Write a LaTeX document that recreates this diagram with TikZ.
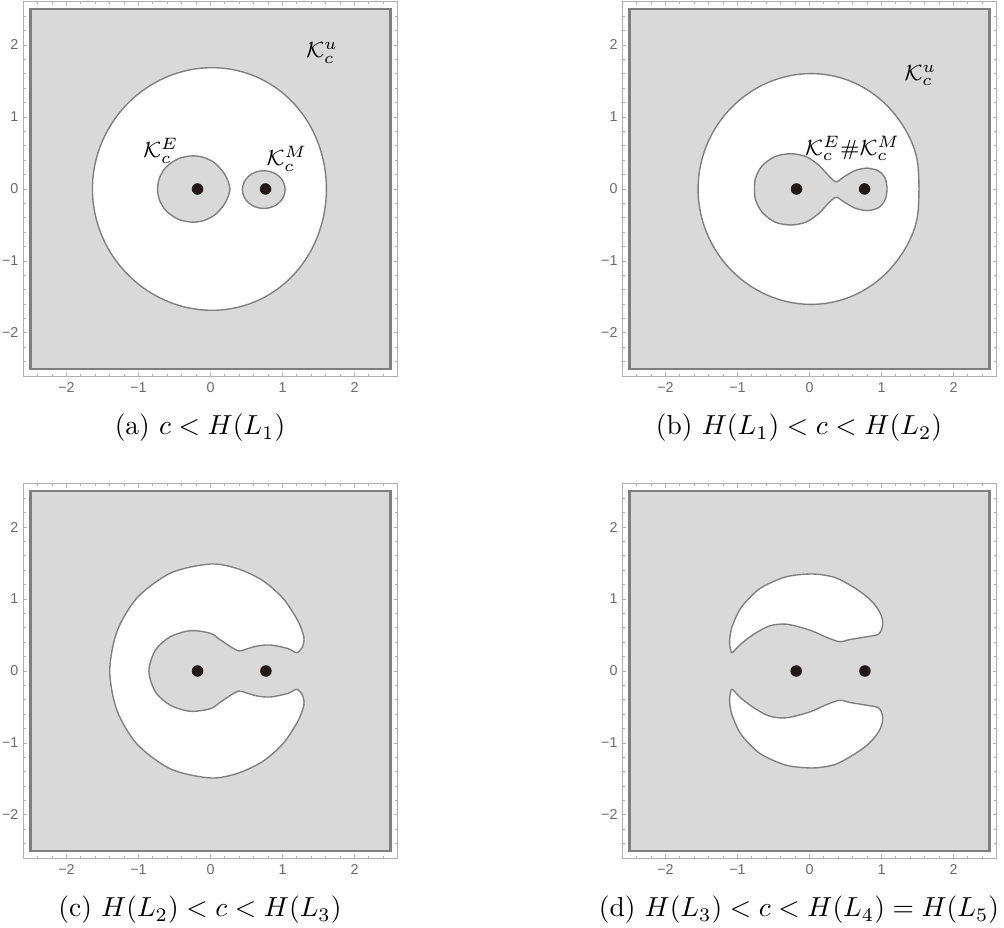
\documentclass[tikz,border=0pt]{standalone}
\usepackage{fontspec}
\newfontfamily\tickfont{Liberation Sans}
\definecolor{regiongray}{HTML}{D9D9D9}
\definecolor{linegray}{HTML}{7F7F7F}
\definecolor{framegray}{HTML}{B0B0B0}
\definecolor{ticktext}{HTML}{6A6A6A}
\definecolor{dotcol}{HTML}{231815}
\tikzset{
  contour/.style={draw=linegray, line width=0.5pt},
  grayregion/.style={contour, fill=regiongray},
  whiteregion/.style={contour, fill=white},
  primary/.style={circle, fill=dotcol, inner sep=0pt, minimum size=4.2pt},
  ticklabel/.style={font=\tickfont\fontsize{5.2}{6}\selectfont, text=ticktext, inner sep=0pt},
  setlabel/.style={font=\footnotesize, inner sep=0pt},
  caption/.style={font=\normalsize, anchor=base, inner sep=0pt},
  framestyle/.style={draw=framegray, line width=0.35pt},
}
\newcommand\panelframe[1]{%
  \fill[regiongray] (-2.5,-2.5) rectangle (2.5,2.5);
  \draw[linegray, line width=0.75pt] (-2.5,-2.5) rectangle (2.5,2.5);
  \draw[framestyle] (-2.6,-2.6) rectangle (2.6,2.6);
  \foreach \i in {-12,...,12}{%
    \pgfmathsetmacro\tpos{\i/5}%
    \pgfmathsetmacro\tlen{ifthenelse(mod(abs(\i),5)==0,0.056,0.034)}%
    \draw[framestyle] (\tpos,-2.6) -- ++(0,\tlen) (\tpos,2.6) -- ++(0,-\tlen)
      (-2.6,\tpos) -- ++(\tlen,0) (2.6,\tpos) -- ++(-\tlen,0);
  }%
  \foreach \k/\s in {-2/−2,-1/−1,0/0,1/1,2/2}{%
    \node[ticklabel, anchor=north] (#1-bx\k) at (\k,-2.68) {\s};
    \node[ticklabel, anchor=east] (#1-ly\k) at (-2.66,\k) {\s};
  }%
}
\begin{document}
\begin{tikzpicture}[x=0.36364pt, y=-0.36364pt]
\useasboundingbox (0,0) rectangle (1004,928);

% ---------------- panel (a)
\begin{scope}[shift={(210.5,189)}, x=26.18pt, y=26.18pt]
  \panelframe{a}
  \draw[whiteregion] plot[domain=0:357.5, samples=144]
    (\x:{1.665-0.02*(3*cos(\x)*cos(\x)-1)-0.0075*(5*cos(\x)*cos(\x)*cos(\x)-3*cos(\x))}) -- cycle;
  \draw[grayregion] plot[smooth cycle] coordinates {
    (0.27,0) (0.2,0.2) (0.06,0.36) (-0.1,0.44) (-0.26,0.46) (-0.45,0.42)
    (-0.62,0.3) (-0.71,0.15) (-0.735,0) (-0.71,-0.15) (-0.62,-0.3)
    (-0.45,-0.42) (-0.26,-0.46) (-0.1,-0.44) (0.06,-0.36) (0.2,-0.2)};
  \draw[grayregion] (0.74,-0.008) ellipse [x radius=0.297, y radius=0.262];
  \node[primary] (a-E) at (-0.18,0) {};
  \node[primary] (a-M) at (0.765,0) {};
  \node[setlabel] (a-Ku) at (1.55,1.89) {$\mathcal{K}_c^u$};
  \node[setlabel] (a-KE) at (-0.69,0.53) {$\mathcal{K}_c^E$};
  \node[setlabel] (a-KM) at (1.06,0.42) {$\mathcal{K}_c^M$};
\end{scope}

% ---------------- panel (b)
\begin{scope}[shift={(809.5,189)}, x=26.18pt, y=26.18pt]
  \panelframe{b}
  \draw[whiteregion] plot[domain=-180:177.5, samples=144]
    (\x:{1.578-0.02215*(3*cos(\x)*cos(\x)-1)-0.00675*(5*cos(\x)*cos(\x)*cos(\x)-3*cos(\x))
         +0.05*(\x/20)*(\x/20)/(1+(\x/20)*(\x/20)*(\x/20)*(\x/20))}) -- cycle;
  \draw[grayregion] plot[smooth cycle] coordinates {
    (1.077,0) (1.05,0.15) (0.96,0.25) (0.8,0.29) (0.63,0.255) (0.48,0.17)
    (0.37,0.10) (0.27,0.18) (0.13,0.33) (-0.05,0.45) (-0.26,0.49) (-0.48,0.45)
    (-0.66,0.32) (-0.75,0.15) (-0.764,0) (-0.75,-0.15) (-0.66,-0.32)
    (-0.48,-0.46) (-0.26,-0.50) (-0.05,-0.46) (0.13,-0.34) (0.27,-0.19)
    (0.37,-0.115) (0.48,-0.18) (0.63,-0.265) (0.8,-0.30) (0.96,-0.26) (1.05,-0.15)};
  \node[primary] (b-E) at (-0.18,0) {};
  \node[primary] (b-M) at (0.765,0) {};
  \node[setlabel] (b-Ku) at (1.54,1.575) {$\mathcal{K}_c^u$};
  \node[setlabel] (b-KEM) at (0.597,0.562) {$\mathcal{K}_c^E\#\mathcal{K}_c^M$};
\end{scope}

% ---------------- panel (c)
\begin{scope}[shift={(210.5,671)}, x=26.18pt, y=26.18pt]
  \panelframe{c}
  \draw[whiteregion] plot[smooth cycle] coordinates {
    (1.204,0.254) (1.275,0.33) (1.297,0.472) (1.212,0.70) (1.008,1.008)
    (0.725,1.256) (0.38,1.42) (0,1.486) (-0.55,1.363) (-1.018,1.018)
    (-1.298,0.551) (-1.40,0) (-1.298,-0.551) (-1.018,-1.018) (-0.55,-1.363)
    (0,-1.486) (0.38,-1.42) (0.725,-1.256) (1.008,-1.008) (1.212,-0.70)
    (1.297,-0.472) (1.275,-0.33)
    (1.204,-0.254) (1.14,-0.28) (1.065,-0.315) (0.833,-0.361) (0.648,-0.347)
    (0.486,-0.301) (0.394,-0.278) (0.278,-0.338) (0.139,-0.431) (0.0,-0.523)
    (-0.278,-0.56) (-0.556,-0.477) (-0.764,-0.292) (-0.856,0) (-0.764,0.292)
    (-0.556,0.477) (-0.278,0.56) (0,0.523) (0.139,0.431) (0.278,0.338)
    (0.394,0.278) (0.486,0.301) (0.648,0.347) (0.833,0.361) (1.065,0.315) (1.14,0.28)};
  \node[primary] (c-E) at (-0.18,0) {};
  \node[primary] (c-M) at (0.77,0) {};
\end{scope}

% ---------------- panel (d)
\begin{scope}[shift={(809.5,671)}, x=26.18pt, y=26.18pt]
  \panelframe{d}
  \foreach \s in {1,-1}{%
    \begin{scope}[yscale=\s]
      \draw[whiteregion] plot[smooth cycle] coordinates {
        (-1.085,0.255) (-1.11,0.40) (-1.08,0.6) (-0.97,0.85) (-0.82,1.03)
        (-0.65,1.17) (-0.32,1.31) (0.046,1.347) (0.35,1.3) (0.6,1.17)
        (0.8,1.03) (0.93,0.89) (1.0,0.76) (1.018,0.65) (0.995,0.56)
        (0.95,0.505) (0.85,0.485) (0.7,0.46) (0.55,0.435) (0.417,0.407)
        (0.23,0.47) (0.0,0.57) (-0.32,0.65) (-0.56,0.625) (-0.79,0.5)
        (-0.97,0.36) (-1.04,0.285)};
    \end{scope}
  }
  \node[primary] (d-E) at (-0.185,0) {};
  \node[primary] (d-M) at (0.77,0) {};
\end{scope}

% ---------------- captions
\node[caption] (capa) at (200,435) {(a) $c<H(L_1)$};
\node[caption] (capb) at (799,435) {(b) $H(L_1)<c<H(L_2)$};
\node[caption] (capc) at (200,917) {(c) $H(L_2)<c<H(L_3)$};
\node[caption] (capd) at (799,917) {(d) $H(L_3)<c<H(L_4)=H(L_5)$};
\end{tikzpicture}
\end{document}
